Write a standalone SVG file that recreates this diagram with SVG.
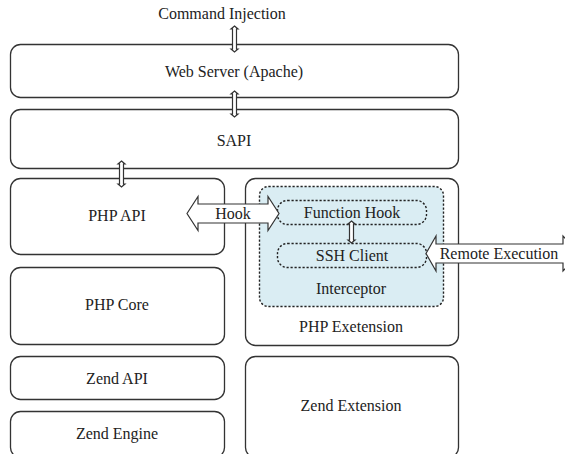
<svg xmlns="http://www.w3.org/2000/svg" width="565" height="454" viewBox="0 0 565 454">
<style>
.box{fill:#fff;stroke:#333;stroke-width:1.3}
.dash{fill:#daedf3;stroke:#222;stroke-width:1.4;stroke-dasharray:2.2,1.8}
text{font-family:"Liberation Serif","DejaVu Serif",serif;font-size:16px;fill:#222;text-anchor:middle}
.arr{fill:#fff;stroke:#333;stroke-width:1.2;stroke-linejoin:miter}
</style>
<g id="web-server"><rect class="box" x="10.5" y="44.5" width="448" height="53" rx="10"/><text x="234" y="77">Web Server (Apache)</text></g>
<g id="sapi"><rect class="box" x="10.5" y="109.5" width="448" height="59" rx="10"/><text x="234" y="146">SAPI</text></g>
<g id="php-api"><rect class="box" x="10.5" y="178.5" width="214" height="76" rx="10"/><text x="117" y="221">PHP API</text></g>
<g id="php-core"><rect class="box" x="10.5" y="267.5" width="214" height="77" rx="10"/><text x="117" y="310">PHP Core</text></g>
<g id="zend-api"><rect class="box" x="10.5" y="356.5" width="214" height="43" rx="10"/><text x="117" y="384">Zend API</text></g>
<g id="zend-engine"><rect class="box" x="10.5" y="411.5" width="214" height="46" rx="10"/><text x="117" y="439">Zend Engine</text></g>
<g id="php-extension"><rect class="box" x="245.5" y="178.5" width="213" height="167" rx="10"/><text x="351" y="332">PHP Exetension</text></g>
<g id="zend-extension"><rect class="box" x="245.5" y="356.5" width="213" height="101" rx="10"/><text x="351" y="411">Zend Extension</text></g>
<g id="interceptor"><rect class="dash" x="259.5" y="186.5" width="184" height="120" rx="9"/><text x="351" y="294">Interceptor</text></g>
<g id="function-hook"><rect class="dash" x="277.5" y="200.5" width="149" height="24" rx="10"/><text x="352" y="218">Function Hook</text></g>
<g id="ssh-client"><rect class="dash" x="277.5" y="243.5" width="149" height="24" rx="10"/><text x="352" y="261">SSH Client</text></g>
<g id="command-injection"><text x="222" y="19">Command Injection</text></g>
<g id="connectors">
<path class="arr" d="M234.5,26 L238,29 L236.5,29 L236.5,49 L238,49 L234.5,52 L231,49 L232.5,49 L232.5,29 L231,29 Z"/>
<path class="arr" d="M234.5,91 L238,94 L236.5,94 L236.5,114 L238,114 L234.5,117 L231,114 L232.5,114 L232.5,94 L231,94 Z"/>
<path class="arr" d="M121.5,161 L125,164 L123.5,164 L123.5,184 L125,184 L121.5,187 L118,184 L119.5,184 L119.5,164 L118,164 Z"/>
<path class="arr" d="M351.5,221 L355,224 L353.5,224 L353.5,240 L355,240 L351.5,243 L348,240 L349.5,240 L349.5,224 L348,224 Z"/>
<path class="arr" d="M187,213.5 L198,196.5 L198,204 L268,204 L268,196.5 L279,213.5 L268,230.5 L268,223 L198,223 L198,230.5 Z"/>
<text x="233" y="219">Hook</text>
<path class="arr" d="M426,253.5 L436,236 L436,244 L563,244 L563,236 L580,253.5 L563,271 L563,263 L436,263 L436,271 Z"/>
<text x="499" y="259">Remote Execution</text>
</g>
</svg>
